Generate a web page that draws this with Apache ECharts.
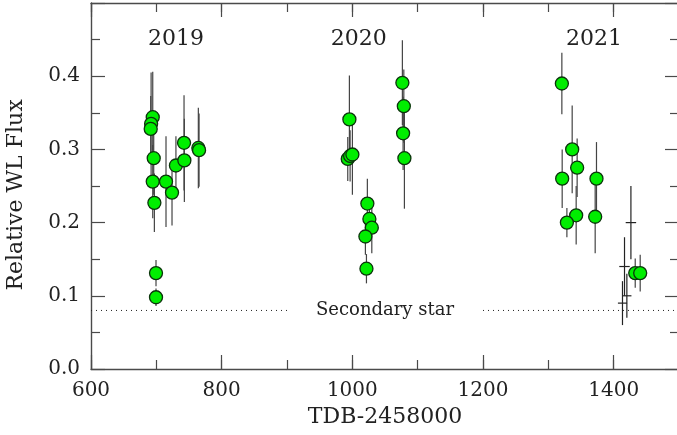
<!DOCTYPE html>
<html><head><meta charset="utf-8">
<script src="https://cdn.jsdelivr.net/npm/echarts@6/dist/echarts.min.js"></script>
<style>html,body{margin:0;padding:0;background:#fff}#c{width:677px;height:435px}</style>
</head><body><div id="c"></div>
<script>
// ---- data ----
const greenT = [694.5, 692.0, 691.4, 696.0, 694.5, 697.0, 699.5, 699.5, 714.8, 724.0, 730.0, 742.4, 742.9, 764.3, 765.4,
  995.5, 993.0, 996.6, 1000.1, 1023.0, 1026.1, 1029.8, 1020.0, 1021.6, 1076.6, 1078.8, 1077.7, 1079.7,
  1320.7, 1336.5, 1344.1, 1321.2, 1373.7, 1342.6, 1328.4, 1371.7, 1433.0, 1440.6];
const greenF = [0.344, 0.335, 0.328, 0.288, 0.256, 0.227, 0.131, 0.098, 0.256, 0.241, 0.278, 0.309, 0.285, 0.302, 0.299,
  0.341, 0.287, 0.291, 0.293, 0.226, 0.205, 0.193, 0.181, 0.137, 0.391, 0.359, 0.322, 0.288,
  0.390, 0.300, 0.275, 0.260, 0.260, 0.210, 0.200, 0.208, 0.131, 0.131];
const greenErr = [0.062, 0.070, 0.045, 0.050, 0.050, 0.040, 0.018, 0.012, 0.062, 0.045, 0.040, 0.065, 0.057, 0.055, 0.050,
  0.060, 0.030, 0.035, 0.055, 0.034, 0.030, 0.035, 0.025, 0.020, 0.058, 0.050, 0.050, 0.069,
  0.042, 0.060, 0.040, 0.040, 0.050, 0.040, 0.020, 0.050, 0.020, 0.025];

const crossT = [1426.4, 1416.6, 1420.2, 1413.5];
const crossF = [0.200, 0.140, 0.100, 0.090];
const crossErr = [0.050, 0.040, 0.030, 0.030];
const crossTErr = [8, 8, 7, 7];

const yearLabels = ['2019', '2020', '2021'];
const yearT = [730, 1010, 1370];
const yearF = [0.45, 0.45, 0.45];

const secondaryLevel = 0.08;
const secondaryText = 'Secondary star';
const secondaryTextT = 1050;
const secondarySegments = [[600, 900], [1200, 1500]];

const xMin = 600, xMax = 1500, yMin = 0, yMax = 0.5;

// ---- chart ----
const FONT = 'DejaVu Serif';
const chart = echarts.init(document.getElementById('c'), null, {renderer: 'canvas'});
const lineCol = '#4a4a4a';

function xAxisDef(pos, interval, tickLen, showLabel, showLine) {
  return {
    type: 'value', min: xMin, max: xMax, interval: interval, position: pos,
    axisLine: {show: showLine, onZero: false, lineStyle: {color: lineCol, width: 1.4}},
    axisTick: {show: true, inside: true, length: tickLen, lineStyle: {color: lineCol, width: 1.2}},
    splitLine: {show: false},
    axisLabel: {show: showLabel, fontFamily: FONT, fontSize: 20, color: '#222', margin: 12,
      showMaxLabel: false,
      formatter: v => String(v)},
    name: showLabel ? 'TDB-2458000' : '',
    nameLocation: 'middle', nameGap: 33,
    nameTextStyle: {fontFamily: FONT, fontSize: 22, color: '#222'}
  };
}
function yAxisDef(pos, showLabel) {
  return {
    type: 'value', min: yMin, max: yMax, interval: 0.1, position: pos,
    axisLine: {show: true, onZero: false, lineStyle: {color: lineCol, width: 1.4}},
    axisTick: {show: true, inside: true, length: 14, lineStyle: {color: lineCol, width: 1.2}},
    minorTick: {show: true, splitNumber: 2, length: 9, lineStyle: {color: lineCol, width: 1.2}},
    splitLine: {show: false},
    axisLabel: {show: showLabel, fontFamily: FONT, fontSize: 20, color: '#222', margin: 11,
      showMaxLabel: false, formatter: v => v.toFixed(1)},
    name: showLabel ? 'Relative WL Flux' : '',
    nameLocation: 'middle', nameGap: 64,
    nameTextStyle: {fontFamily: FONT, fontSize: 22, color: '#222', padding: [0, 18, 0, 0]}
  };
}

const greenData = greenT.map((t, i) => [t, greenF[i], greenErr[i]]);
const crossData = crossT.map((t, i) => [t, crossF[i], crossErr[i], crossTErr[i]]);
const yearData = yearT.map((t, i) => [t, yearF[i], yearLabels[i]]);
const segData = secondarySegments.map(s => [s[0], s[1], secondaryLevel]);

const option = {
  animation: false,
  backgroundColor: '#fff',
  grid: {left: 91, right: -2, top: 3, bottom: 66, containLabel: false, outerBoundsMode: 'none'},
  xAxis: [
    xAxisDef('bottom', 200, 14, true, true),
    xAxisDef('top', 200, 14, false, true),
    xAxisDef('bottom', 100, 9, false, false),
    xAxisDef('top', 100, 9, false, false)
  ],
  yAxis: [yAxisDef('left', true), yAxisDef('right', false)],
  series: [
    { // dotted secondary-star level
      type: 'custom', xAxisIndex: 0, yAxisIndex: 0, data: segData, z: 1,
      renderItem(params, api) {
        const a = api.coord([api.value(0), api.value(2)]);
        const b = api.coord([api.value(1), api.value(2)]);
        return {type: 'line', shape: {x1: a[0], y1: a[1], x2: b[0], y2: b[1]},
          style: {stroke: '#222', lineWidth: 1, lineDash: [1, 4]}};
      }
    },
    { // text labels
      type: 'custom', xAxisIndex: 0, yAxisIndex: 0, z: 2,
      data: [[secondaryTextT, secondaryLevel, secondaryText]],
      renderItem(params, api) {
        const p = api.coord([api.value(0), api.value(1)]);
        return {type: 'text', x: p[0], y: p[1],
          style: {text: secondaryText, fontFamily: FONT, fontSize: 18, fill: '#222',
            align: 'center', verticalAlign: 'middle'}};
      }
    },
    {
      type: 'custom', xAxisIndex: 0, yAxisIndex: 0, z: 2, data: yearData,
      renderItem(params, api) {
        const p = api.coord([api.value(0), api.value(1)]);
        return {type: 'text', x: p[0], y: p[1],
          style: {text: yearLabels[params.dataIndex], fontFamily: FONT, fontSize: 22, fill: '#222',
            align: 'center', verticalAlign: 'middle'}};
      }
    },
    { // error bars of green points
      type: 'custom', xAxisIndex: 0, yAxisIndex: 0, z: 3, data: greenData,
      renderItem(params, api) {
        const t = api.value(0), f = api.value(1), e = api.value(2);
        const a = api.coord([t, f + e]), b = api.coord([t, f - e]);
        return {type: 'line', shape: {x1: a[0], y1: a[1], x2: b[0], y2: b[1]},
          style: {stroke: '#444', lineWidth: 1.2}};
      }
    },
    { // crosses (no marker)
      type: 'custom', xAxisIndex: 0, yAxisIndex: 0, z: 3, data: crossData,
      renderItem(params, api) {
        const t = api.value(0), f = api.value(1), e = api.value(2), te = api.value(3);
        const a = api.coord([t, f + e]), b = api.coord([t, f - e]);
        const c = api.coord([t - te, f]), d = api.coord([t + te, f]);
        return {type: 'group', children: [
          {type: 'line', shape: {x1: a[0], y1: a[1], x2: b[0], y2: b[1]}, style: {stroke: '#222', lineWidth: 1.2}},
          {type: 'line', shape: {x1: c[0], y1: c[1], x2: d[0], y2: d[1]}, style: {stroke: '#222', lineWidth: 1.2}}
        ]};
      }
    },
    {
      type: 'scatter', xAxisIndex: 0, yAxisIndex: 0, z: 4,
      data: greenData.map(d => [d[0], d[1]]),
      symbol: 'circle', symbolSize: 13,
      itemStyle: {color: '#00ee00', borderColor: '#0b330b', borderWidth: 1.3, opacity: 1}
    }
  ]
};
chart.setOption(option);
</script>
</body></html>
